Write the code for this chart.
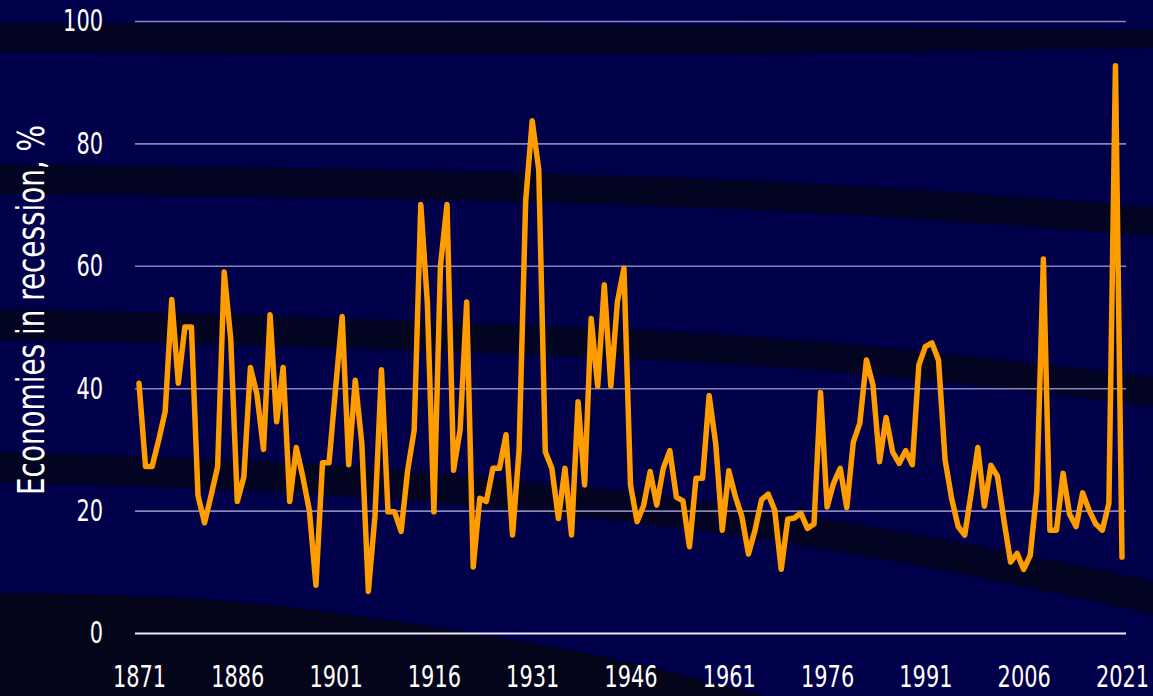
<!DOCTYPE html>
<html>
<head>
<meta charset="utf-8">
<script src="https://cdn.jsdelivr.net/npm/d3@7"></script>
<style>
  html, body { margin: 0; padding: 0; background: #00004a; overflow: hidden; }
  svg { display: block; }
  text { font-family: 'Liberation Sans Narrow', 'DejaVu Sans Condensed', sans-serif; fill: #ffffff; }
</style>
</head>
<body>
<svg></svg>
<script>
'use strict'

// share of economies in recession, one value per year from 1871
const firstYear = 1871
const recession = [
  40.8, 27.2, 27.2, 31.5, 36.2, 54.5, 40.8, 50, 50, 22.5,
  18, 22.5, 27.2, 59, 48, 21.5, 25.5, 43.4, 39, 30,
  52, 34.5, 43.4, 21.5, 30.3, 25.5, 20, 7.8, 27.8, 27.8,
  40, 51.7, 27.5, 41.3, 31, 6.8, 19, 43, 19.8, 19.8,
  16.6, 26.6, 33.2, 70, 54, 19.8, 60, 70, 26.6, 33.2,
  54.1, 10.8, 22, 21.5, 26.9, 26.9, 32.4, 16, 29.9, 70.5,
  83.7, 75.7, 29.6, 26.9, 18.7, 26.9, 16, 37.8, 24.2, 51.4,
  40.3, 56.9, 40.3, 54.1, 59.6, 24.2, 18.2, 20.8, 26.4, 20.9,
  26.9, 29.8, 22.2, 21.6, 14.1, 25.3, 25.3, 38.8, 31, 16.8,
  26.5, 22.3, 19, 12.9, 16.8, 21.8, 22.7, 20.1, 10.4, 18.6,
  18.8, 19.6, 17.1, 17.8, 39.3, 20.6, 24.5, 26.9, 20.5, 31.2,
  34.3, 44.6, 40.5, 28, 35.2, 29.6, 27.7, 29.8, 27.5, 43.8,
  46.8, 47.4, 44.6, 28.3, 22, 17.4, 16, 23, 30.3, 20.7,
  27.4, 25.6, 18.3, 11.6, 13, 10.4, 12.7, 23.2, 61.1, 16.8,
  16.8, 26.1, 19.4, 17.4, 22.9, 20, 17.8, 16.8, 21.2, 92.7,
  12.4
]

const yearTicks = [1871, 1886, 1901, 1916, 1931, 1946, 1961, 1976, 1991, 2006, 2021]
const valueTicks = [0, 20, 40, 60, 80, 100]

const width = 1153,
  height = 696

const margin = { top: 21, right: 31, bottom: 63, left: 139 }

// width of one digit in the narrow face of the original
const digitWidth = 13.3
// squeeze that makes the installed face as narrow as the original
const narrow = 0.775

// decorative dark bands of the background: [x, top, bottom]
const bands = [
  [[0, 23, 52], [576, 25, 54], [1153, 30, 48]],
  [[0, 164, 194], [400, 170, 199], [800, 183, 212], [1153, 207, 236]],
  [[0, 309, 340], [400, 320, 350], [800, 340, 369], [1153, 377, 406]],
  [[0, 452, 482], [400, 470, 500], [800, 515, 545], [1153, 581, 614]],
  [[0, 593, 700], [200, 599, 700], [400, 622, 700], [600, 656, 700], [780, 700, 700]]
]

const data = recession.map((v, i) => ({ year: firstYear + i, value: v }))

const svg = d3
  .select('svg')
  .attr('width', width)
  .attr('height', height)

svg
  .append('rect')
  .attr('width', width)
  .attr('height', height)
  .attr('fill', '#00004a')

const band = d3
  .area()
  .x(d => d[0])
  .y0(d => d[1])
  .y1(d => d[2])
  .curve(d3.curveMonotoneX)

svg
  .append('g')
  .selectAll('path')
  .data(bands)
  .join('path')
  .attr('d', band)
  .attr('fill', (d, i) => (i === 4 ? '#04041a' : '#030322'))

const xScale = d3
  .scaleLinear()
  .domain([1871, 2021])
  .range([margin.left, width - margin.right])

const yScale = d3
  .scaleLinear()
  .domain([0, 100])
  .range([height - margin.bottom, margin.top])

const gridLeft = 135,
  gridRight = 1126

// y axis with grid lines
const yAxis = svg
  .append('g')
  .attr('class', 'y-axis')
  .attr('transform', 'translate(' + gridLeft + ',0)')
  .call(
    d3
      .axisLeft(yScale)
      .tickValues(valueTicks)
      .tickSize(-(gridRight - gridLeft))
      .tickPadding(32)
  )

yAxis.select('.domain').remove()
yAxis
  .selectAll('.tick line')
  .attr('stroke', d => (d === 0 ? '#e8e8ff' : '#8686b8'))
  .attr('stroke-width', d => (d === 0 ? 2.2 : 1.6))
yAxis
  .selectAll('.tick text')
  .style('font-size', '31px')
  .attr('fill', '#ffffff')
  .attr('textLength', d => String(d).length * digitWidth)
  .attr('lengthAdjust', 'spacingAndGlyphs')

// x axis
const xAxis = svg
  .append('g')
  .attr('class', 'x-axis')
  .attr('transform', 'translate(0,' + yScale(0) + ')')
  .call(
    d3
      .axisBottom(xScale)
      .tickValues(yearTicks)
      .tickFormat(d3.format('d'))
      .tickSize(0)
      .tickPadding(33)
  )

xAxis.select('.domain').remove()
// labels are centred on the tick, so scaling about it keeps them in place
xAxis
  .selectAll('.tick text')
  .style('font-size', '30px')
  .attr('fill', '#ffffff')
  .attr('transform', 'scale(' + narrow + ',1)')

svg
  .append('text')
  .attr('transform', 'translate(44,310) rotate(-90)')
  .attr('text-anchor', 'middle')
  .style('font-size', '37px')
  .attr('textLength', 370)
  .attr('lengthAdjust', 'spacingAndGlyphs')
  .text('Economies in recession, %')

const line = d3
  .line()
  .x(d => xScale(d.year))
  .y(d => yScale(d.value))

svg
  .append('path')
  .datum(data)
  .attr('d', line)
  .attr('fill', 'none')
  .attr('stroke', '#ff9c00')
  .attr('stroke-width', 5.5)
  .attr('stroke-linejoin', 'round')
  .attr('stroke-linecap', 'round')
</script>
</body>
</html>
